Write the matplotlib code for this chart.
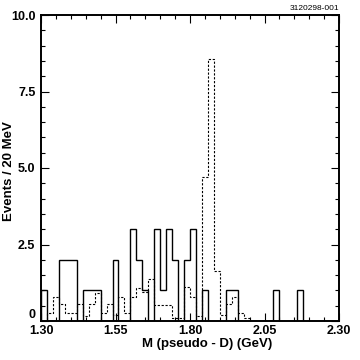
import numpy as np
import matplotlib
matplotlib.use("Agg")
import matplotlib.pyplot as plt
from matplotlib.ticker import MultipleLocator, FixedLocator

plt.rcParams['font.family'] = ['Liberation Sans', 'DejaVu Sans']
plt.rcParams['font.weight'] = 'bold'

# 20 MeV bins from 1.30 to 2.30 GeV
bin_lo, bin_hi, bin_w = 1.30, 2.30, 0.02

data_counts = [1, 0, 0, 2, 2, 2, 0, 1, 1, 1,
               0, 0, 2, 0, 0, 3, 2, 1, 0, 3,
               1, 3, 2, 0, 2, 3, 0, 1, 0, 0,
               0, 1, 1, 0, 0, 0, 0, 0, 0, 1,
               0, 0, 0, 1, 0, 0, 0, 0, 0, 0]

mc_counts = [0.0, 0.27, 0.8, 0.55, 0.27, 0.27, 0.55, 0.15, 0.55, 0.9,
             0.27, 0.55, 0.2, 0.8, 0.27, 0.8, 1.09, 0.96, 1.36, 0.52,
             0.52, 0.52, 0.1, 0.1, 1.1, 0.8, 0.15, 4.7, 8.55, 1.63,
             0.2, 0.55, 0.8, 0.27, 0.1, 0.0, 0.0, 0.0, 0.0, 0.0,
             0.0, 0.0, 0.0, 0.0, 0.0, 0.0, 0.0, 0.0, 0.0, 0.0]

x_ticks = [1.30, 1.55, 1.80, 2.05, 2.30]
x_tick_labels = ["1.30", "1.55", "1.80", "2.05", "2.30"]
y_ticks = [0, 2.5, 5.0, 7.5, 10.0]
y_tick_labels = ["0", "2.5", "5.0", "7.5", "10.0"]

edges = np.arange(len(data_counts) + 1) * bin_w + bin_lo

fig = plt.figure(figsize=(3.6, 3.6), dpi=100)
ax = fig.add_axes([41/360, 39/360, 298/360, 306/360])

ax.stairs(data_counts, edges, color='black', linewidth=1.0, baseline=0)
ax.stairs(mc_counts, edges, color='black', linewidth=0.8,
          linestyle=(0, (2, 1.5)), baseline=0)

ax.set_xlim(bin_lo, bin_hi)
ax.set_ylim(0, 10)
ax.xaxis.set_major_locator(FixedLocator(x_ticks))
ax.set_xticklabels(x_tick_labels)
ax.xaxis.set_minor_locator(MultipleLocator(0.05))
ax.yaxis.set_major_locator(FixedLocator(y_ticks))
ax.set_yticklabels(y_tick_labels)
ax.yaxis.set_minor_locator(MultipleLocator(0.5))
ax.get_yticklabels()[0].set_verticalalignment('bottom')

ax.tick_params(which='both', direction='in', top=True, right=True,
               width=0.8, labelsize=9)
ax.tick_params(which='major', length=6)
ax.tick_params(axis='x', which='major', pad=3)
ax.tick_params(axis='y', which='major', pad=4)
ax.tick_params(which='minor', length=3)
for s in ax.spines.values():
    s.set_linewidth(1.4)

ax.set_xlabel("M (pseudo - D) (GeV)", fontsize=9.5, fontweight='bold')
ax.xaxis.set_label_coords(0.557, -0.054)
ax.set_ylabel("Events / 20 MeV", fontsize=9.5, fontweight='bold')
ax.yaxis.set_label_coords(-0.088, 0.49)

fig.text(339/360, 1 - 8/360, "3120298-001", ha='right', va='center',
         fontsize=6, fontweight='normal')

fig.savefig("out.png", dpi=100)
